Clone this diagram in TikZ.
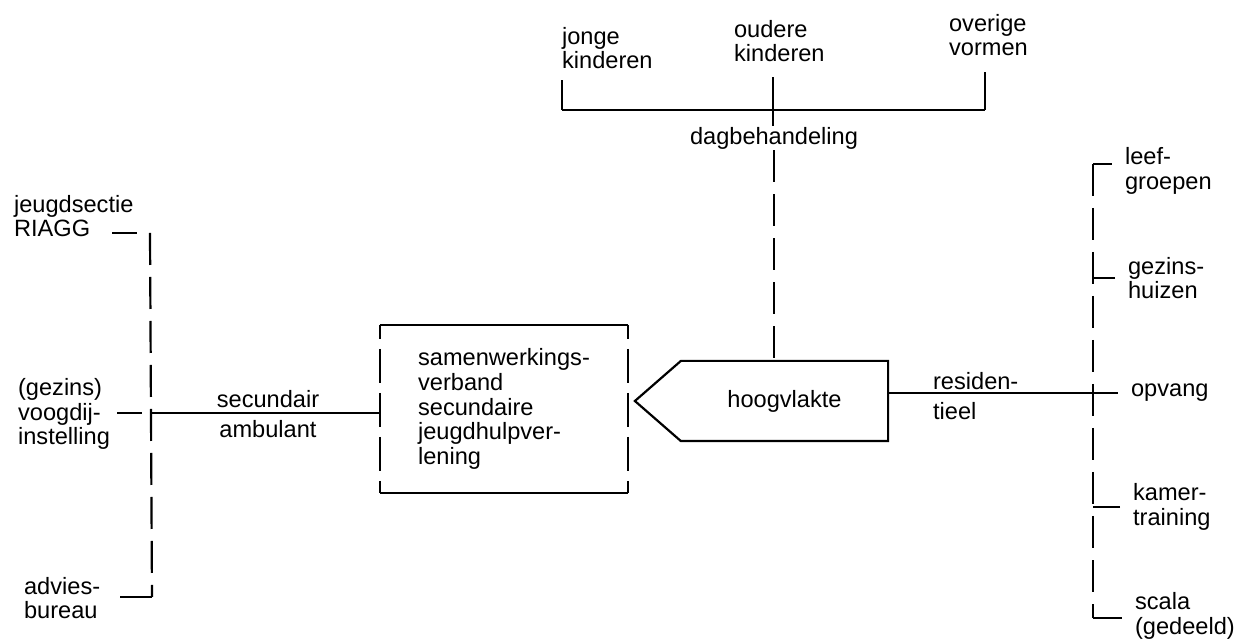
\documentclass[tikz,border=0pt]{standalone}
\usepackage{fontspec}
\setmainfont{Liberation Sans}
\usetikzlibrary{positioning}

\begin{document}
\begin{tikzpicture}[x=0.5pt,y=-0.5pt,line width=1.1pt]
\tikzset{txt/.style = {align=left,inner sep=0pt,anchor=west,font=\fontsize{11.8}{12.4}\selectfont}}
\tikzset{rtxt/.style = {txt,inner xsep=6pt}}
\tikzset{dashline/.style = {dash pattern=on 16pt off 6pt}}
\tikzset{boxside/.style = {dash pattern=on 17pt off 5pt,dash phase=10pt}}
\useasboundingbox (0,0) rectangle (1236,640);
% left labels
\node[txt] (riagg) at (13,216) {jeugdsectie\\RIAGG};
\node[txt] (voogdij) at (17,414) {(gezins)\\voogdij-\\instelling};
\node[txt] (advies) at (23,598) {advies-\\bureau};
\node[txt,anchor=center,align=center] (sec) at (268,414) {secundair\\[3pt]ambulant};
% middle
\node[txt,anchor=center,minimum width=123pt,minimum height=83pt] (box) at (504,409)
  {samenwerkings-\\verband\\secundaire\\jeugdhulpver-\\lening};
\node[txt,anchor=center,minimum width=102.5pt,minimum height=39pt] (hoog) at (784.5,401) {hoogvlakte};
\node[txt] (resid) at (932,396) {residen-\\[3pt]tieel};
% top labels
\node[txt] (jonge) at (561,48) {jonge\\kinderen};
\node[txt] (oudere) at (733,41) {oudere\\kinderen};
\node[txt] (overige) at (948,35) {overige\\vormen};
\node[txt,anchor=center] (dag) at (774,138) {dagbehandeling};
% right labels
\node[rtxt] (leef) at (1112,171) {leef-\\groepen};
\node[rtxt] (gezins) at (1115,278) {gezins-\\huizen};
\node[rtxt] (opvang) at (1118,393) {opvang};
\node[rtxt] (kamer) at (1120,507) {kamer-\\training};
\node[rtxt] (scala) at (1122,616) {scala\\(gedeeld)};
% coordinates
\coordinate (lt) at (150,233);
\coordinate (lm) at (151,413);
\coordinate (lb) at (152,597);
\coordinate (barl) at (562,110);
\coordinate (barm) at (773,110);
\coordinate (barr) at (985,110);
\coordinate (rtop) at (1093,164);
\coordinate (rbot) at (1093,618);
% shapes
\draw (box.north west) -- (box.north east);
\draw (box.south west) -- (box.south east);
\draw[boxside] (box.north west) -- (box.south west);
\draw[boxside] (box.north east) -- (box.south east);
\draw (hoog.north west) -- (hoog.north east) -- (hoog.south east) -- (hoog.south west)
  -- ([xshift=-23pt]hoog.west) -- cycle;
% left edges
\draw ([xshift=-19pt]lt) -- ([xshift=-6.5pt]lt);
\draw ([xshift=-17pt]lm) -- ([xshift=-4.5pt]lm);
\draw[dashline] (lt) -- (lb);
\draw (lb) -- ([xshift=-16pt]lb);
\draw (lm) -- (lm -| box.west);
% top edges
\draw (barl) -- (barr);
\draw (barl) -- ++(0,-30);
\draw (barm) -- ++(0,-33);
\draw (barr) -- ++(0,-38);
\draw (barm) -- (dag.north -| barm);
\draw[dashline] (dag.south) -- (dag.south |- hoog.north);
% right edges
\draw (hoog.east |- opvang.west) -- (opvang.west);
\draw[dashline] (rtop) -- (rbot);
\draw (rtop) -- (rtop -| leef.west);
\draw (gezins.west) -- (gezins.west -| rtop);
\draw (kamer.west) -- (kamer.west -| rtop);
\draw (rbot) -- (rbot -| scala.west);
\end{tikzpicture}
\end{document}
